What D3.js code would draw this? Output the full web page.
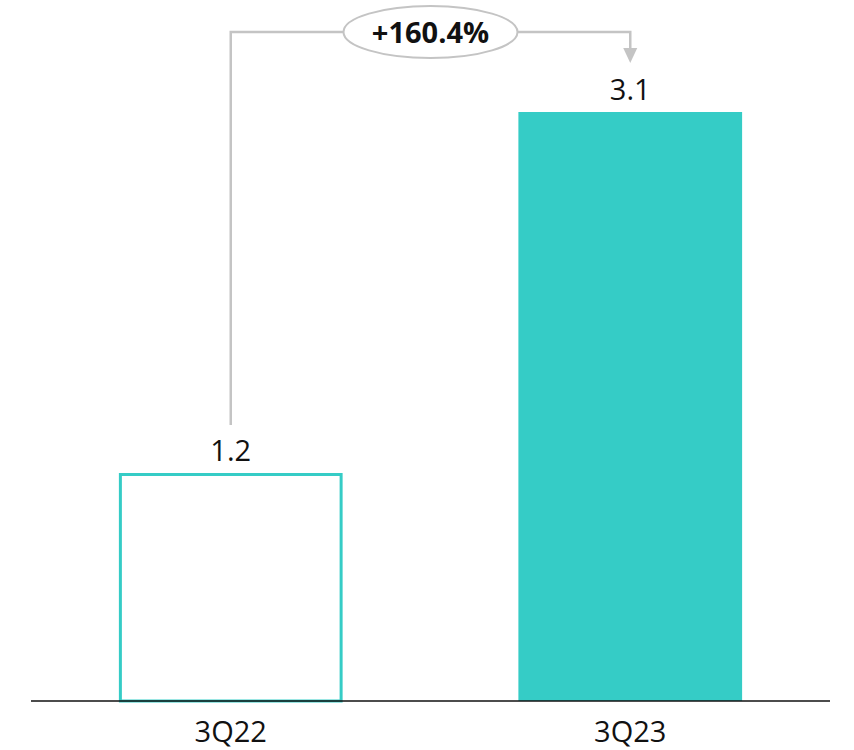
<!DOCTYPE html>
<html>
<head>
<meta charset="utf-8">
<script src="https://cdn.jsdelivr.net/npm/d3@7"></script>
<style>
  html, body { margin: 0; padding: 0; background: #fff; }
  svg { display: block; font-family: "Open Sans", "Noto Sans", sans-serif; }
</style>
</head>
<body>
<svg id="chart" width="854" height="750"></svg>
<script>
// Quarterly values
const categories = ["3Q22", "3Q23"];
const values = [1.2, 3.1];
const valueLabels = ["1.2", "3.1"];
const changeLabel = "+160.4%";

const teal = "#35CCC6";
const fontSize = 29;
const svg = d3.select("#chart");

const baseY = 701;
const x = d3.scaleBand().domain(categories).range([31, 830]).paddingInner(0.44).paddingOuter(0.22);
const y = d3.scaleLinear().domain([0, 3.1]).range([baseY, 112]);

// Bars: prior period outlined, current period filled
svg.selectAll("rect.bar")
  .data(categories)
  .join("rect")
  .attr("class", "bar")
  .attr("x", (d, i) => i === 0 ? x(d) + 1.5 : x(d))
  .attr("y", (d, i) => i === 0 ? y(values[i]) + 1.5 : y(values[i]))
  .attr("width", (d, i) => i === 0 ? x.bandwidth() - 3 : x.bandwidth())
  .attr("height", (d, i) => i === 0 ? baseY - y(values[i]) - 1.5 : baseY - y(values[i]))
  .attr("fill", (d, i) => i === 0 ? "#fff" : teal)
  .attr("stroke", (d, i) => i === 0 ? teal : "none")
  .attr("stroke-width", 3);

// Baseline axis
const axis = d3.axisBottom(x).tickSize(0).tickPadding(20.5);
const gAxis = svg.append("g").attr("transform", `translate(0,${baseY})`).call(axis);
gAxis.select(".domain").attr("d", "M31,0H830").attr("stroke", "#111").attr("stroke-width", 1.5);
gAxis.selectAll(".tick text")
  .attr("font-size", fontSize)
  .attr("fill", "#111")
  .attr("font-family", "'Open Sans', 'Noto Sans', sans-serif");

// Value labels
svg.selectAll("text.val")
  .data(categories)
  .join("text")
  .attr("class", "val")
  .attr("x", d => x(d) + x.bandwidth() / 2)
  .attr("y", (d, i) => y(values[i]) - 12.5)
  .attr("text-anchor", "middle")
  .attr("font-size", fontSize)
  .attr("fill", "#111")
  .text((d, i) => valueLabels[i]);

// Growth connector
const cx0 = x(categories[0]) + x.bandwidth() / 2;
const cx1 = x(categories[1]) + x.bandwidth() / 2;
const topY = 32;
svg.append("path")
  .attr("d", `M${cx0},${y(values[0]) - 48}V${topY}H${cx1}V50`)
  .attr("fill", "none")
  .attr("stroke", "#c4c4c4")
  .attr("stroke-width", 2.5);
svg.append("path")
  .attr("d", `M${cx1 - 7},48L${cx1 + 7},48L${cx1},63Z`)
  .attr("fill", "#c4c4c4");

const midX = (cx0 + cx1) / 2;
svg.append("ellipse")
  .attr("cx", midX).attr("cy", topY)
  .attr("rx", 87).attr("ry", 26)
  .attr("fill", "#fff")
  .attr("stroke", "#c4c4c4")
  .attr("stroke-width", 2);
svg.append("text")
  .attr("x", midX).attr("y", topY + 11)
  .attr("text-anchor", "middle")
  .attr("font-size", fontSize)
  .attr("font-weight", "bold")
  .attr("fill", "#111")
  .text(changeLabel);
</script>
</body>
</html>
